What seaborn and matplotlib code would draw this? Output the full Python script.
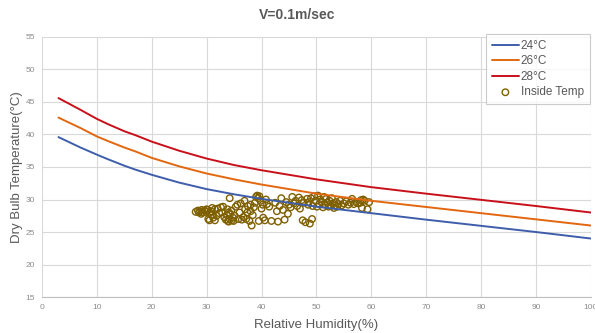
import numpy as np
import pandas as pd
import matplotlib
matplotlib.use("Agg")
import matplotlib.pyplot as plt
import seaborn as sns

# comfort curves
rh_curve = [3, 5, 7, 10, 12, 15, 17, 20, 25, 30, 35, 40, 45, 50, 60, 70, 80, 90, 100]
t24 = [39.6, 38.8, 38.0, 36.9, 36.2, 35.2, 34.6, 33.8, 32.6, 31.6, 30.8, 30.1, 29.5, 28.9,
       27.9, 26.9, 25.95, 25.0, 24.0]
t26 = [42.6, 41.8, 41.0, 39.7, 39.0, 38.0, 37.4, 36.4, 35.1, 34.0, 33.1, 32.3, 31.6, 30.9,
       29.8, 28.85, 27.9, 26.95, 26.0]
t28 = [45.6, 44.7, 43.8, 42.4, 41.6, 40.5, 39.9, 38.9, 37.5, 36.3, 35.3, 34.5, 33.8, 33.1,
       31.9, 30.9, 29.95, 29.0, 28.0]

# measured inside temperatures
inside_rh = [
    28.0, 28.4, 28.8, 29.1, 29.3, 29.6, 29.9, 30.2, 30.5, 28.6, 29.0, 30.0, 30.8, 31.0,
    30.3, 30.5, 31.2, 31.5, 31.8, 32.0, 32.3, 32.6, 33.0, 33.2, 33.5, 33.7, 33.9, 34.0,
    34.2, 34.3, 34.5, 34.6, 34.8, 34.0, 33.8, 34.9, 35.1, 35.3, 35.6, 35.8, 36.0, 36.2,
    36.4, 36.7, 34.2, 31.5, 32.8, 31.0,
    37.0, 37.2, 37.5, 37.8, 38.0, 38.2, 38.4, 38.6, 38.8, 39.0, 39.2, 39.4, 39.6, 39.8,
    40.0, 40.2, 39.5, 40.3, 40.6, 41.0, 41.4, 38.0, 37.4, 36.9, 40.8,
    41.8, 42.5, 42.8, 43.0, 43.3, 43.6, 43.9, 44.2, 44.5, 44.8, 45.0, 45.3, 45.6, 45.9,
    46.2, 46.5, 46.8, 47.0, 47.3, 47.5, 47.7, 48.0, 48.3, 48.5, 48.8, 49.2,
    48.6, 49.0, 49.3, 49.6, 49.9, 50.1, 50.3, 50.5, 50.7, 51.0, 51.2, 51.4, 51.6, 51.8,
    52.0, 52.2, 52.4, 52.6, 52.8, 53.0, 53.2, 53.4, 53.6, 53.8, 54.0, 54.3, 54.6, 55.0,
    55.4, 55.8, 56.2, 56.5, 56.8, 57.2, 57.6, 58.0, 58.3, 58.5, 58.8, 59.6, 58.1, 59.3,
]
inside_t = [
    28.1, 28.3, 28.2, 28.4, 28.0, 28.3, 28.1, 28.4, 27.9, 28.0, 27.8, 28.5, 28.2, 27.6,
    27.0, 26.8, 27.2, 26.8, 27.5, 28.6, 27.9, 28.8, 28.9, 27.3, 26.9, 27.6, 26.7, 26.6,
    27.0, 27.8, 28.3, 26.8, 27.2, 28.0, 28.5, 26.7, 27.5, 28.9, 29.2, 27.0, 28.0, 29.4,
    26.9, 27.3, 30.2, 28.5, 28.0, 28.7,
    28.5, 27.0, 29.0, 26.7, 28.2, 26.0, 27.6, 28.8, 29.5, 30.4, 30.6, 30.2, 30.5, 29.8,
    28.6, 29.2, 26.7, 27.2, 26.8, 29.3, 28.9, 29.2, 28.0, 29.8, 30.0,
    26.7, 29.5, 28.2, 26.6, 29.0, 30.2, 28.4, 26.9, 29.6, 27.8, 29.2, 28.8, 30.4, 29.4,
    29.8, 29.0, 30.3, 28.6, 29.9, 26.8, 29.5, 26.5, 30.1, 29.2, 26.3, 27.0,
    29.6, 30.2, 29.0, 30.5, 29.8, 28.9, 30.6, 29.3, 30.0, 29.6, 28.8, 30.4, 29.2, 30.1,
    29.5, 28.9, 29.8, 29.0, 30.2, 29.4, 28.7, 29.1, 29.6, 28.9, 29.3, 29.8, 29.1, 29.4,
    29.7, 29.2, 29.5, 30.1, 29.3, 29.6, 29.4, 29.5, 28.7, 30.0, 29.8, 29.6, 29.9, 28.5,
]

curves = pd.DataFrame({
    "rh": rh_curve * 3,
    "temp": t24 + t26 + t28,
    "series": ["24°C"] * len(rh_curve) + ["26°C"] * len(rh_curve) + ["28°C"] * len(rh_curve),
})
inside = pd.DataFrame({"rh": inside_rh, "temp": inside_t})

sns.set_style("white")
plt.rcParams["font.family"] = ["Liberation Sans", "DejaVu Sans"]

fig = plt.figure(figsize=(5.95, 3.33), dpi=100)
ax = fig.add_axes([0.0706, 0.108, 0.9224, 0.781])

palette = {"24°C": "#3E5DAA", "26°C": "#E2670F", "28°C": "#C8101A"}
sns.lineplot(data=curves, x="rh", y="temp", hue="series", palette=palette,
             linewidth=1.4, ax=ax)
sns.scatterplot(data=inside, x="rh", y="temp", ax=ax, marker="o", s=22,
                facecolor="none", edgecolor="#7F6000", linewidth=1.0,
                label="Inside Temp")

ax.set_xlim(0, 100)
ax.set_ylim(15, 55)
ax.set_xticks(range(0, 101, 10))
ax.set_yticks(range(15, 56, 5))
ax.grid(True, color="#D9D9D9", linewidth=0.8)
ax.set_axisbelow(True)
for s in ["top", "right", "left"]:
    ax.spines[s].set_visible(False)
ax.spines["bottom"].set_color("#BFBFBF")
ax.tick_params(axis="both", labelsize=6, colors="#8C8C8C", length=0, pad=5)

ax.set_xlabel("Relative Humidity(%)", fontsize=9.5, color="#595959", labelpad=6)
ax.set_ylabel("Dry Bulb Temperature(°C)", fontsize=9.5, color="#595959", labelpad=2)
fig.suptitle("V=0.1m/sec", x=0.5, y=0.975, fontsize=10, fontweight="bold", color="#595959")

leg = ax.legend(loc="upper right", bbox_to_anchor=(0.998, 1.012), fontsize=8.5,
                frameon=True, fancybox=False, handlelength=2.3, handletextpad=0.15,
                labelspacing=0.3, borderpad=0.5, borderaxespad=0.0)
leg.get_frame().set_edgecolor("#BFBFBF")
leg.get_frame().set_linewidth(0.8)
for t in leg.get_texts():
    t.set_color("#595959")

fig.savefig("out.png", dpi=100)
